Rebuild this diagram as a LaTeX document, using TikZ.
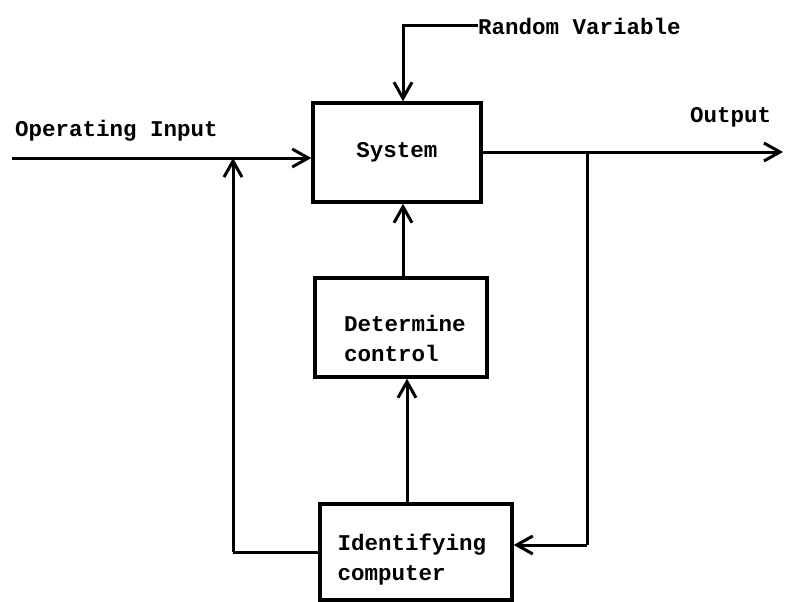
\documentclass[tikz,border=0pt]{standalone}
\usepackage{fontspec}
\setmonofont{Liberation Mono}
\usetikzlibrary{arrows.meta}
\begin{document}
\begin{tikzpicture}[x=1pt,y=-1pt,
  blk/.style={draw,line width=3.4pt,inner sep=0pt},
  lbl/.style={font=\ttfamily\bfseries\fontsize{22.5}{30}\selectfont,inner sep=0pt},
  wire/.style={line width=3pt},
  arr/.style={wire,-{Straight Barb[length=16pt,width=18pt,line width=3pt]}}]
\useasboundingbox (0,0) rectangle (785,602);
% blocks
\node[blk,minimum width=168pt,minimum height=99pt] (sys) at (397,152.5) {};
\node[lbl] (systxt) at (397,152) {System};
\node[blk,minimum width=172pt,minimum height=99pt] (det) at (401,327.5) {};
\node[lbl,align=left] (dettxt) at (405,338) {Determine\\control};
\node[blk,minimum width=192pt,minimum height=96pt] (idc) at (416,552) {};
\node[lbl,align=left] (idtxt) at (412,560) {Identifying\\computer};
% external labels
\node[lbl,anchor=west] (rv) at (478,26) {Random Variable};
\node[lbl,anchor=west] (oi) at (15,131) {Operating Input};
\node[lbl,anchor=west] (out) at (690,117) {Output};
% helper points
\coordinate (inL) at (12,158);
\coordinate (outR) at (783,152);
\coordinate (br) at (587,152);
\coordinate (fbL) at (233,158);
% connectors
\draw[arr] (rv.west) -- ++(-75,0) coordinate (rvk) -- (rvk |- sys.north);
\draw[arr] (inL) -- (sys.west |- inL);
\draw[arr] (sys.east |- outR) -- (outR);
\draw[wire] (br) -- (br |- 0,545) coordinate (brd);
\draw[arr] (brd) -- (idc.east |- brd);
\draw[wire] (idc.west |- 0,552) -- (fbL |- 0,552) coordinate (fbd);
\draw[arr] (fbd) -- (fbL);
\draw[arr] (det.north -| 403,0) -- (sys.south -| 403,0);
\draw[arr] (idc.north -| 407,0) -- (det.south -| 407,0);
\end{tikzpicture}
\end{document}
